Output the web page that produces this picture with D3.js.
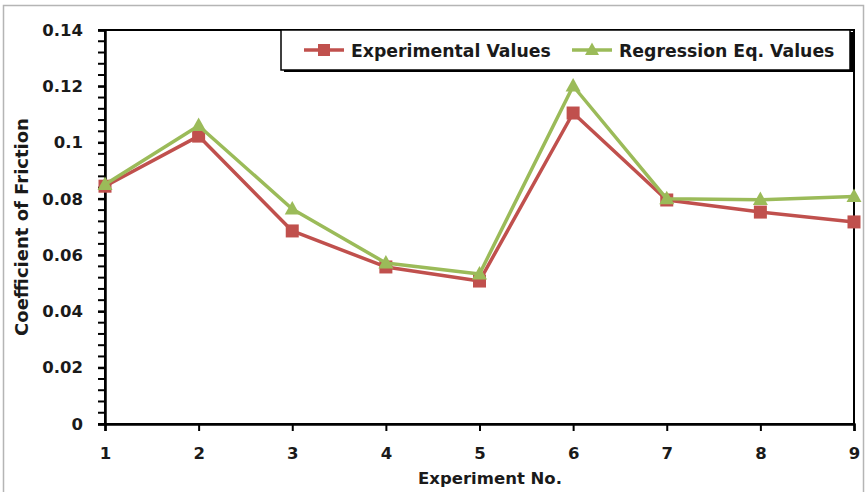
<!DOCTYPE html>
<html><head><meta charset="utf-8">
<script src="https://cdn.jsdelivr.net/npm/d3@7"></script>
<style>body{margin:0;background:#fff}svg{display:block}text{font-family:"DejaVu Sans",sans-serif;font-weight:700;fill:#1a1a1a}</style>
</head><body><svg id="c" width="868" height="492"></svg>
<script>
const experiments = [1,2,3,4,5,6,7,8,9];
const experimentalValues = [0.0845,0.1023,0.0686,0.0558,0.0508,0.1105,0.0796,0.0753,0.0718];
const regressionValues = [0.0851,0.1060,0.0764,0.0572,0.0533,0.1201,0.0800,0.0797,0.0808];
const yTicks = [0,0.02,0.04,0.06,0.08,0.1,0.12,0.14];
const seriesNames = ["Experimental Values","Regression Eq. Values"];

const svg = d3.select("#c");
const L=105,R=854,T=30,B=424;
const x = d3.scaleLinear().domain([1,9]).range([L,R]);
const y = d3.scaleLinear().domain([0,0.14]).range([B,T]);

svg.append("rect").attr("x",3.5).attr("y",5.5).attr("width",860).attr("height",490).attr("fill","none").attr("stroke","#b5b5b5").attr("stroke-width",1.5);

// frame
svg.append("rect").attr("x",L).attr("y",T).attr("width",R-L).attr("height",B-T).attr("fill","none").attr("stroke","#000").attr("stroke-width",2);

// y axis
const minor = d3.range(0,0.1401,0.004);
svg.append("g").selectAll("line").data(minor).join("line")
  .attr("x1",L-7).attr("x2",L+1).attr("y1",d=>y(d)).attr("y2",d=>y(d)).attr("stroke","#000").attr("stroke-width",2);
const ya = svg.append("g").attr("transform",`translate(${L},0)`)
  .call(d3.axisLeft(y).tickValues(yTicks).tickFormat(d=>d===0?"0":String(+d.toFixed(2))).tickSize(7).tickPadding(15));
ya.select(".domain").attr("stroke","#000").attr("stroke-width",2.5);
ya.selectAll(".tick line").attr("stroke","#000").attr("stroke-width",2);
ya.selectAll("text").style("font-size","16.5px").attr("fill","#1a1a1a");

// x axis
const xa = svg.append("g").attr("transform",`translate(0,${B})`)
  .call(d3.axisBottom(x).tickValues(experiments).tickFormat(d3.format("d")).tickSize(7).tickPadding(16));
xa.select(".domain").attr("stroke","#000").attr("stroke-width",2.5);
xa.selectAll(".tick line").attr("stroke","#000").attr("stroke-width",2);
xa.selectAll("text").style("font-size","16.5px").attr("fill","#1a1a1a");

// titles
svg.append("text").attr("x",490).attr("y",484).attr("text-anchor","middle").style("font-size","16.5px").text("Experiment No.");
svg.append("text").attr("transform","translate(28,227) rotate(-90)").attr("text-anchor","middle").style("font-size","18px").text("Coefficient of Friction");

const red="#C0504D", green="#9BBB59";
const line = d3.line().x((d,i)=>x(experiments[i])).y(d=>y(d));
function sq(g,cx,cy,s,c){g.append("rect").attr("x",cx-s/2).attr("y",cy-s/2).attr("width",s).attr("height",s).attr("fill",c);}
function tri(g,cx,cy,s,c){const h=s*0.9;g.append("path").attr("d",`M${cx},${cy-h*0.6}L${cx+s/2},${cy+h*0.4}L${cx-s/2},${cy+h*0.4}Z`).attr("fill",c);}

const gExp = svg.append("g");
gExp.append("path").datum(experimentalValues).attr("d",line).attr("fill","none").attr("stroke",red).attr("stroke-width",3.5).attr("stroke-linejoin","round");
experimentalValues.forEach((v,i)=>sq(gExp,x(experiments[i]),y(v),13,red));
const gReg = svg.append("g");
gReg.append("path").datum(regressionValues).attr("d",line).attr("fill","none").attr("stroke",green).attr("stroke-width",3.5).attr("stroke-linejoin","round");
regressionValues.forEach((v,i)=>tri(gReg,x(experiments[i]),y(v),15,green));

// legend
const lg = svg.append("g");
lg.append("rect").attr("x",284).attr("y",32).attr("width",569).attr("height",40).attr("fill","#000");
lg.append("rect").attr("x",281).attr("y",30).attr("width",569).attr("height",40).attr("fill","#fff").attr("stroke","#000").attr("stroke-width",1.5);
const items=[{name:seriesNames[0],c:red,m:"sq",x:304,tx:351},{name:seriesNames[1],c:green,m:"tri",x:572,tx:619}];
items.forEach(it=>{
  lg.append("line").attr("x1",it.x).attr("x2",it.x+40).attr("y1",50).attr("y2",50).attr("stroke",it.c).attr("stroke-width",3.5);
  if(it.m==="sq") sq(lg,it.x+20,50,12,it.c); else tri(lg,it.x+20,50,14,it.c);
  lg.append("text").attr("x",it.tx).attr("y",56.5).style("font-size","17.3px").text(it.name);
});
</script></body></html>
